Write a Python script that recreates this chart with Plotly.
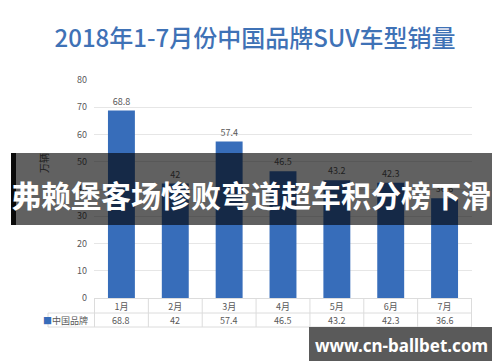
import plotly.graph_objects as go

# ---- data ----
months = ["1月", "2月", "3月", "4月", "5月", "6月", "7月"]
sales = [68.8, 42, 57.4, 46.5, 43.2, 42.3, 36.6]
y_ticks = [0, 10, 20, 30, 40, 50, 60, 70, 80]
series_name = "中国品牌"
y_title = "万辆"
chart_title = "2018年1-7月份中国品牌SUV车型销量"
overlay_text = "弗赖堡客场惨败弯道超车积分榜下滑"
watermark = "www.cn-ballbet.com"

W, H = 500, 362
L, R, T, B = 86, 36, 72, 72
PW, PH = W - L - R, H - T - B
FONT = "Noto Sans CJK SC"
BAR = "#376dba"
GRAY = "#595959"
LINE = "#dcdcdc"


def pxx(p):
    return (p - L) / PW


def pxy(p):
    return (H - B - p) / PH


fig = go.Figure(
    go.Bar(
        x=months,
        y=sales,
        width=0.5,
        marker=dict(color=BAR, line=dict(width=0)),
        text=[f"{v:g}" for v in sales],
        textposition="outside",
        textfont=dict(size=9, color=GRAY, family=FONT),
        cliponaxis=False,
        showlegend=False,
    )
)

shapes = []
# table lines
row_mid = pxy(305)
row_bot = pxy(319)
for i in range(len(months) + 1):
    shapes.append(dict(type="line", xref="x", yref="paper", x0=i - 0.5, x1=i - 0.5,
                       y0=0, y1=row_bot, line=dict(color=LINE, width=1), layer="below"))
for yy in (row_mid, row_bot):
    shapes.append(dict(type="line", xref="paper", yref="paper", x0=pxx(40), x1=1,
                       y0=yy, y1=yy, line=dict(color=LINE, width=1), layer="below"))
shapes.append(dict(type="line", xref="paper", yref="paper", x0=pxx(40), x1=pxx(40),
                   y0=row_mid, y1=row_bot, line=dict(color=LINE, width=1), layer="below"))

# dark overlay band
shapes.append(dict(type="rect", xref="paper", yref="paper", x0=pxx(8), x1=pxx(490),
                   y0=pxy(217), y1=pxy(145), fillcolor="rgba(0,0,0,0.62)",
                   line=dict(width=0), layer="above"))
for a, b in ((3, 8), (490, 500)):
    shapes.append(dict(type="rect", xref="paper", yref="paper", x0=pxx(a), x1=pxx(b),
                       y0=pxy(217), y1=pxy(145), fillcolor="#0a0a0a",
                       line=dict(width=0), layer="above"))
# watermark box
shapes.append(dict(type="rect", xref="paper", yref="paper", x0=pxx(301), x1=pxx(490),
                   y0=pxy(353), y1=pxy(319), fillcolor="#5a5a5a",
                   line=dict(width=0), layer="above"))

annotations = []
for m, v in zip(months, sales):
    annotations.append(dict(x=m, xref="x", y=pxy(312), yref="paper", text=f"{v:g}",
                            showarrow=False, font=dict(size=9, color=GRAY, family=FONT),
                            xanchor="center", yanchor="middle"))
annotations.append(dict(x=pxx(57), xref="paper", y=pxy(312), yref="paper",
                        text=f'<span style="color:{BAR}">■</span>{series_name}',
                        showarrow=False, font=dict(size=9, color=GRAY, family=FONT),
                        xanchor="center", yanchor="middle"))
annotations.append(dict(x=pxx(35), xref="paper", y=pxy(155), yref="paper", text=y_title,
                        textangle=-90, showarrow=False,
                        font=dict(size=10, color="#1e1e1e", family=FONT),
                        xanchor="center", yanchor="middle"))
annotations.append(dict(x=pxx(243), xref="paper", y=pxy(186), yref="paper",
                        text=f"<b>{overlay_text}</b>", showarrow=False,
                        font=dict(size=30, color="white", family=FONT),
                        xanchor="center", yanchor="middle"))
annotations.append(dict(x=pxx(393), xref="paper", y=pxy(337), yref="paper",
                        text=f"<b>{watermark}</b>", showarrow=False,
                        font=dict(size=17, color="white", family="Noto Sans"),
                        xanchor="center", yanchor="middle"))

fig.update_layout(
    width=W, height=H,
    margin=dict(l=L, r=R, t=T, b=B, pad=0),
    paper_bgcolor="white", plot_bgcolor="white",
    font=dict(family=FONT, color=GRAY, size=9),
    title=dict(text=chart_title, x=247 / W, xanchor="center",
               y=1 - 31 / H, yanchor="middle",
               font=dict(size=24, color="#3f72b6", family=FONT, weight=500)),
    xaxis=dict(showgrid=False, showline=True, linecolor=LINE, linewidth=1,
               ticks="", tickfont=dict(size=9, color=GRAY), fixedrange=True),
    yaxis=dict(range=[0, 80], tickvals=y_ticks, showgrid=True, gridcolor="#e6e6e6",
               gridwidth=1, zeroline=False, showline=False, ticks="",
               ticklabelstandoff=6, tickfont=dict(size=9, color=GRAY)),
    shapes=shapes,
    annotations=annotations,
    bargap=0.5,
)

fig.write_html("out.html")
